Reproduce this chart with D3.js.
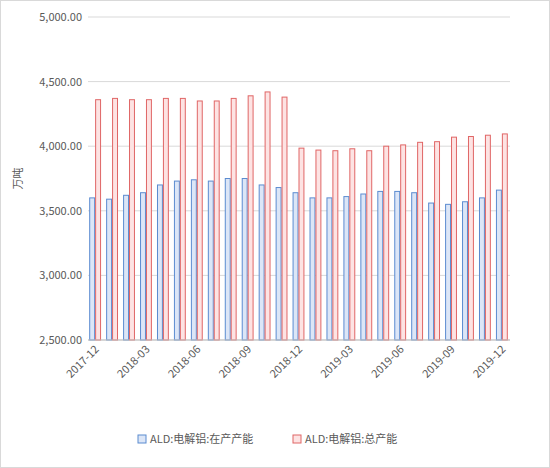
<!DOCTYPE html>
<html><head><meta charset="utf-8">
<script src="https://cdn.jsdelivr.net/npm/d3@7/dist/d3.min.js"></script>
<style>body{margin:0;background:#fff}</style>
</head><body>
<script>
var months = ['2017-12','2018-01','2018-02','2018-03','2018-04','2018-05','2018-06','2018-07','2018-08','2018-09','2018-10','2018-11','2018-12',
  '2019-01','2019-02','2019-03','2019-04','2019-05','2019-06','2019-07','2019-08','2019-09','2019-10','2019-11','2019-12'];
var running = [3600,3590,3620,3640,3700,3730,3740,3730,3750,3750,3700,3680,3640,3600,3600,3610,3630,3650,3650,3640,3560,3550,3570,3600,3660];
var total = [4360,4370,4360,4360,4370,4370,4350,4350,4370,4390,4420,4380,3985,3970,3965,3980,3965,4000,4010,4030,4035,4070,4075,4085,4095];
var yTicks = [2500,3000,3500,4000,4500,5000];
var names = ['ALD:电解铝:在产产能','ALD:电解铝:总产能'];

var W = 550, H = 468, m = {top:17, right:40, bottom:128, left:88};
var svg = d3.select('body').append('svg').attr('width',W).attr('height',H)
  .style('font-family','"Microsoft YaHei","Noto Sans CJK SC",sans-serif');
svg.append('rect').attr('x',0.5).attr('y',0.5).attr('width',W-1).attr('height',H-1).attr('fill','#fff').attr('stroke','#d9d9d9');

var x = d3.scaleBand().domain(months).range([m.left, W-m.right]).paddingInner(0.3).paddingOuter(0.1);
var y = d3.scaleLinear().domain([2500,5000]).range([H-m.bottom, m.top]);
var fmt = d3.format(',.2f');

svg.append('g').selectAll('line').data(yTicks).enter().append('line')
  .attr('x1',m.left).attr('x2',W-m.right).attr('y1',d=>y(d)).attr('y2',d=>y(d))
  .attr('stroke','#d9d9d9');
svg.append('g').selectAll('text').data(yTicks).enter().append('text')
  .attr('x',m.left-6).attr('y',d=>y(d)+4).attr('text-anchor','end')
  .attr('font-size',11).attr('fill','#595959').text(d=>fmt(d));

var bw = x.bandwidth()/2;
svg.append('g').selectAll('rect').data(running).enter().append('rect')
  .attr('x',(d,i)=>x(months[i])).attr('width',bw-1)
  .attr('y',d=>y(d)).attr('height',d=>y(2500)-y(d))
  .attr('fill','#dce6f7').attr('stroke','#5b8bd0');
svg.append('g').selectAll('rect').data(total).enter().append('rect')
  .attr('x',(d,i)=>x(months[i])+bw).attr('width',bw-1)
  .attr('y',d=>y(d)).attr('height',d=>y(2500)-y(d))
  .attr('fill','#fde3e3').attr('stroke','#e06666');

svg.append('line').attr('x1',m.left).attr('x2',W-m.right).attr('y1',y(2500)).attr('y2',y(2500)).attr('stroke','#bfbfbf');

svg.append('g').selectAll('text').data(months.filter((d,i)=>i%3===0)).enter().append('text')
  .attr('transform',d=>'translate('+(x(d)+x.bandwidth()/2+4)+','+(y(2500)+10)+') rotate(-45)')
  .attr('text-anchor','end').attr('font-size',11).attr('fill','#595959').text(d=>d);

svg.append('text').attr('transform','translate(22,'+((m.top+H-m.bottom)/2)+') rotate(-90)')
  .attr('text-anchor','middle').attr('font-size',11).attr('fill','#595959').text('万吨');

var leg = svg.append('g').attr('transform','translate(138,443)');
names.forEach(function(n,i){
  var g = leg.append('g').attr('transform','translate('+(i*155)+',0)');
  g.append('rect').attr('x',0).attr('y',-8).attr('width',8).attr('height',8)
    .attr('fill',i?'#fde3e3':'#dce6f7').attr('stroke',i?'#e06666':'#5b8bd0');
  g.append('text').attr('x',12).attr('y',0).attr('font-size',11).attr('fill','#595959').text(n);
});
</script>
</body></html>
